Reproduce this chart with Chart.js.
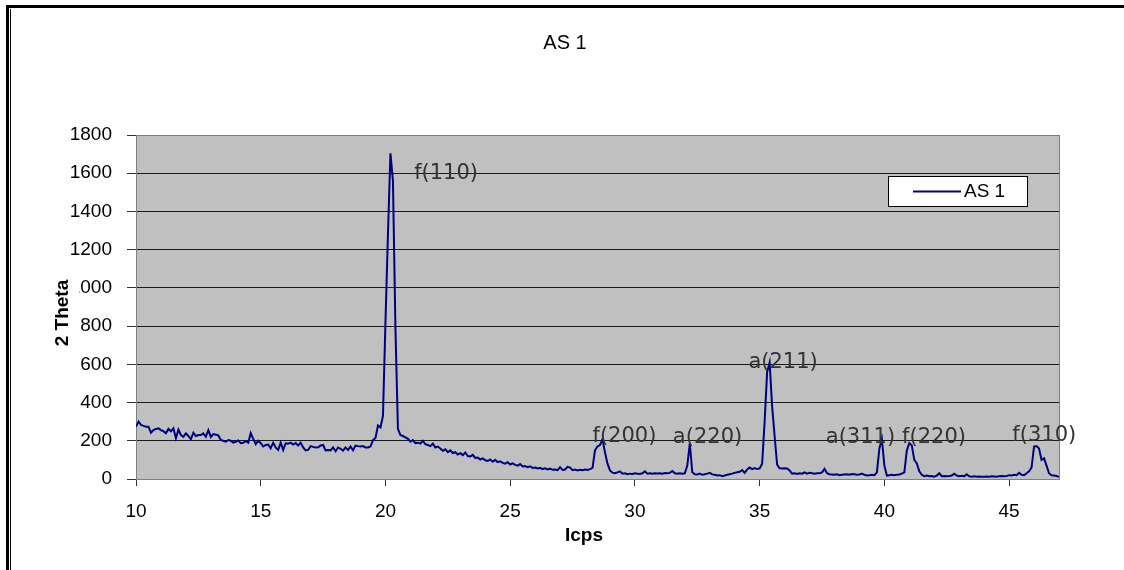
<!DOCTYPE html>
<html>
<head>
<meta charset="utf-8">
<script src="https://cdn.jsdelivr.net/npm/chart.js@4.4.1/dist/chart.umd.min.js"></script>
<style>
  html, body { margin: 0; padding: 0; background: #fff; }
  canvas { display: block; }
</style>
</head>
<body>
<canvas id="xrdChart" width="1124" height="570"></canvas>
<script>
const seriesName = "AS 1";
const thetaStart = 10;
const thetaStep = 0.1;

// counts, one row per degree (x.0 .. x.9)
const counts = [
  274, 300, 283, 278, 274, 274, 242, 256, 262, 265,
  256, 250, 239, 262, 250, 265, 213, 258, 230, 221,
  239, 225, 208, 242, 225, 230, 230, 239, 221, 256,
  220, 235, 232, 228, 204, 200, 195, 204, 200, 190,
  195, 202, 187, 190, 198, 190, 240, 210, 183, 200,
  187, 170, 178, 180, 161, 190, 165, 152, 190, 152,
  187, 185, 190, 180, 188, 175, 190, 165, 150, 152,
  172, 168, 165, 166, 175, 178, 150, 152, 150, 165,
  145, 165, 158, 148, 165, 152, 170, 150, 175, 172,
  170, 172, 165, 165, 170, 204, 215, 280, 270, 330,
  820, 1280, 1704, 1560, 790, 262, 230, 225, 218, 210,
  195, 204, 188, 190, 185, 200, 182, 178, 172, 185,
  165, 170, 160, 148, 155, 140, 150, 136, 140, 128,
  135, 125, 138, 120, 118, 126, 110, 112, 102, 108,
  98, 95, 102, 90, 100, 88, 92, 84, 80, 88,
  76, 82, 74, 70, 78, 66, 68, 62, 66, 58,
  60, 55, 58, 52, 56, 50, 54, 48, 50, 46,
  62, 48, 50, 64, 60, 46, 50, 45, 48, 46,
  50, 47, 52, 58, 150, 170, 178, 208, 140, 80,
  45, 33, 30, 35, 40, 28, 30, 25, 28, 26,
  30, 28, 26, 30, 40, 28, 30, 28, 30, 29,
  30, 28, 31, 30, 32, 42, 30, 28, 30, 28,
  30, 70, 186, 35, 25, 24, 28, 22, 25, 28,
  32, 24, 22, 18, 20, 15, 18, 22, 25, 28,
  32, 35, 38, 47, 32, 50, 60, 52, 57, 52,
  55, 80, 300, 560, 610, 380, 225, 75, 56, 55,
  56, 55, 45, 28, 30, 26, 30, 28, 35, 28,
  32, 30, 28, 30, 30, 35, 53, 30, 25, 24,
  22, 25, 20, 22, 24, 25, 22, 26, 25, 22,
  24, 28, 22, 18, 20, 22, 20, 35, 160, 210,
  70, 18, 20, 22, 20, 22, 24, 28, 35, 150,
  188, 175, 100, 82, 40, 22, 15, 18, 14, 16,
  12, 18, 30, 15, 16, 14, 15, 18, 28, 18,
  15, 17, 14, 25, 14, 12, 14, 12, 13, 12,
  12, 13, 12, 14, 13, 12, 15, 16, 14, 15,
  20, 18, 22, 20, 32, 22, 20, 30, 40, 60,
  170, 172, 160, 100, 108, 70, 30, 20, 18, 16,
  12
];

const xTickValues = [10, 15, 20, 25, 30, 35, 40, 45];
const yTickValues = [0, 200, 400, 600, 800, 1000, 1200, 1400, 1600, 1800];

const peakLabels = ["f(110)", "f(200)", "a(220)", "a(211)", "a(311)", "f(220)", "f(310)"];
const peakLabelTheta = [22.43, 29.58, 32.91, 35.94, 39.04, 41.99, 46.41];
const peakLabelCounts = [1598, 222, 218, 608, 218, 218, 226];

const points = counts.map((c, i) => ({
  x: Math.round((thetaStart + i * thetaStep) * 10) / 10,
  y: c
}));

const tickFont = { family: "'Liberation Sans', Arial, sans-serif", size: 19 };

// background, frame, legend, titles and peak labels
const decor = {
  id: "decor",
  beforeDraw(chart) {
    const { ctx, chartArea: a } = chart;
    ctx.save();
    ctx.fillStyle = "#fff";
    ctx.fillRect(0, 0, chart.width, chart.height);
    ctx.fillStyle = "#000";
    ctx.fillRect(6, 5, chart.width - 6, 3);
    ctx.fillRect(6, 5, 3, chart.height - 5);
    ctx.fillRect(10, 9, 1, chart.height - 9);
    ctx.fillStyle = "#c0c0c0";
    ctx.fillRect(a.left, a.top, a.right - a.left, a.bottom - a.top);
    ctx.restore();
  },
  beforeDatasetsDraw(chart) {
    const { ctx, chartArea: a } = chart;
    ctx.save();
    ctx.strokeStyle = "#808080";
    ctx.lineWidth = 1;
    ctx.strokeRect(a.left + 0.5, a.top + 0.5, a.right - a.left, a.bottom - a.top);
    ctx.restore();
  },
  afterDatasetsDraw(chart) {
    const { ctx } = chart;
    const xs = chart.scales.x, ys = chart.scales.y;
    ctx.save();
    ctx.font = "21px 'DejaVu Sans', sans-serif";
    ctx.fillStyle = "#333";
    ctx.textAlign = "center";
    ctx.textBaseline = "middle";
    peakLabels.forEach((t, i) => {
      ctx.fillText(t, xs.getPixelForValue(peakLabelTheta[i]), ys.getPixelForValue(peakLabelCounts[i]));
    });

    // legend box
    ctx.fillStyle = "#fff";
    ctx.fillRect(888, 176, 140, 31);
    ctx.strokeStyle = "#000";
    ctx.lineWidth = 1;
    ctx.strokeRect(888.5, 176.5, 139, 30);
    ctx.strokeStyle = "#000080";
    ctx.lineWidth = 2;
    ctx.beginPath();
    ctx.moveTo(913, 191.5);
    ctx.lineTo(961, 191.5);
    ctx.stroke();
    ctx.fillStyle = "#000";
    ctx.font = "19px 'Liberation Sans', Arial, sans-serif";
    ctx.textAlign = "left";
    ctx.fillText(seriesName, 964, 192);
    ctx.restore();
  },
  afterDraw(chart) {
    const { ctx } = chart;
    ctx.save();
    ctx.fillStyle = "#000";
    ctx.textAlign = "center";
    ctx.textBaseline = "middle";
    ctx.font = "20px 'Liberation Sans', Arial, sans-serif";
    ctx.fillText(seriesName, 565, 43);
    ctx.font = "bold 19px 'Liberation Sans', Arial, sans-serif";
    ctx.fillText("Icps", 584, 536);
    // y title sits on top of the 1000 label, like the original
    ctx.fillStyle = "#fff";
    ctx.fillRect(52, 279, 27, 69);
    ctx.translate(63, 313);
    ctx.rotate(-Math.PI / 2);
    ctx.fillStyle = "#000";
    ctx.fillText("2 Theta", 0, 0);
    ctx.restore();
  }
};

new Chart(document.getElementById("xrdChart").getContext("2d"), {
  type: "line",
  data: {
    datasets: [{
      label: seriesName,
      data: points,
      borderColor: "#000080",
      borderWidth: 2,
      pointRadius: 0,
      tension: 0,
      fill: false
    }]
  },
  options: {
    responsive: false,
    animation: false,
    layout: { padding: { top: 135, right: 65, left: 0, bottom: 0 } },
    plugins: {
      legend: { display: false },
      tooltip: { enabled: false },
      title: { display: false }
    },
    scales: {
      x: {
        type: "linear",
        min: 10,
        max: 47,
        afterBuildTicks: s => { s.ticks = xTickValues.map(v => ({ value: v })); },
        afterFit: s => { s.height = 91; },
        grid: { drawOnChartArea: false, tickLength: 7, tickColor: "#333" },
        border: { color: "#808080" },
        ticks: { padding: 14, color: "#000", font: tickFont, maxRotation: 0, autoSkip: false, callback: v => String(v) }
      },
      y: {
        min: 0,
        max: 1800,
        afterBuildTicks: s => { s.ticks = yTickValues.map(v => ({ value: v })); },
        afterFit: s => { s.width = 136; },
        grid: { color: "#1a1a1a", tickLength: 9, tickColor: "#333" },
        border: { color: "#808080" },
        ticks: { padding: 15, color: "#000", font: tickFont, callback: v => String(v) }
      }
    }
  },
  plugins: [decor]
});
</script>
</body>
</html>
